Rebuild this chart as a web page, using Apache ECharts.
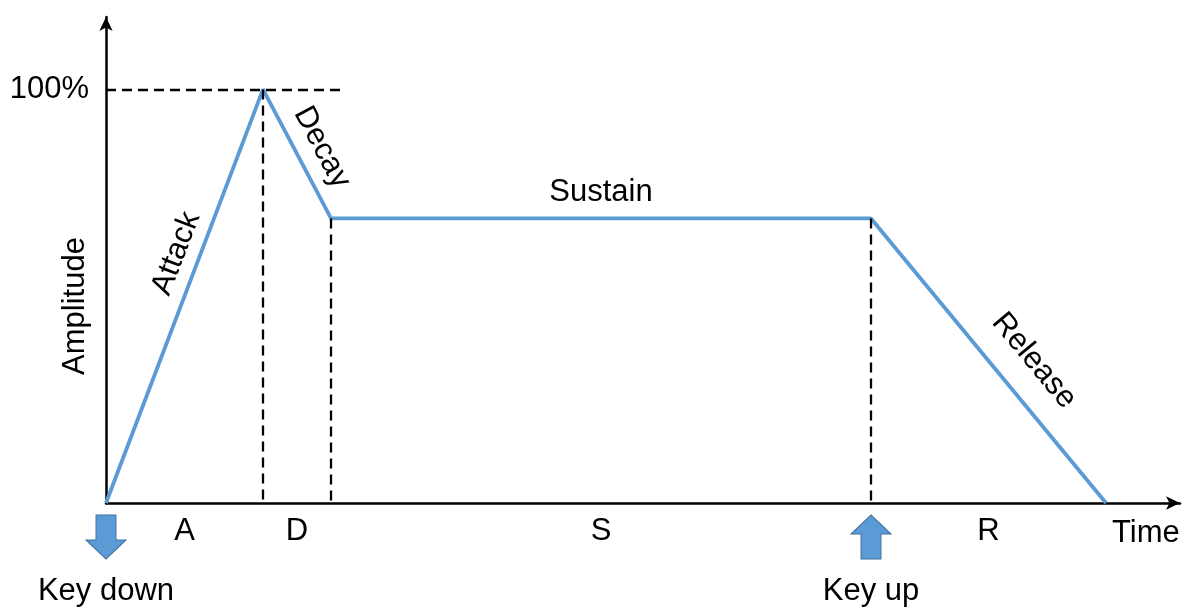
<!DOCTYPE html>
<html><head><meta charset="utf-8">
<script src="https://cdn.jsdelivr.net/npm/echarts@6/dist/echarts.min.js"></script>
<style>html,body{margin:0;padding:0;background:#fff}#c{width:1188px;height:610px}</style>
</head><body><div id="c"></div>
<script>
// ADSR envelope breakpoints (time units, amplitude in %)
const phaseTimes = [0, 1.57, 2.25, 7.65, 10.0];
const envelopeAmplitude = [0, 100, 68.8, 68.8, 0];
const phaseLetters = ['A', 'D', 'S', 'R'];
const phaseNames = ['Attack', 'Decay', 'Sustain', 'Release'];
const keyEventNames = ['Key down', 'Key up'];
const keyEventTimes = [0, 7.65];
const yTickValues = [100];
const yTickLabels = ['100%'];
const peakGuideEnd = 2.39;
const timeMax = 10.74;
const ampMax = 117.5;

const FONT = "'Liberation Sans', Arial, sans-serif";
const BLUE = '#5B9BD5';

const envelopeData = phaseTimes.map((t, i) => [t, envelopeAmplitude[i]]);
const phaseMid = phaseLetters.map((_, i) => (phaseTimes[i] + phaseTimes[i + 1]) / 2);
const phaseMidAmp = phaseLetters.map((_, i) => (envelopeAmplitude[i] + envelopeAmplitude[i + 1]) / 2);

// label styling per phase name (rotation in degrees, offset in rotated frame)
const phaseLabelStyle = [
  { rotate: 69, offset: [37, -23] },
  { rotate: -62, offset: [6, -25] },
  { rotate: 0, offset: [0, -26] },
  { rotate: -50.4, offset: [29, -35] }
];

const guideLines = [
  [{ coord: [0, envelopeAmplitude[1]] }, { coord: [peakGuideEnd, envelopeAmplitude[1]] }],
  [{ coord: [phaseTimes[1], envelopeAmplitude[1]] }, { coord: [phaseTimes[1], 0] }],
  [{ coord: [phaseTimes[2], envelopeAmplitude[2]] }, { coord: [phaseTimes[2], 0] }],
  [{ coord: [phaseTimes[3], envelopeAmplitude[3]] }, { coord: [phaseTimes[3], 0] }]
];

const downArrow = 'path://M10,0 L30,0 L30,25 L40,25 L20,44 L0,25 L10,25 Z';
const upArrow = 'path://M20,0 L40,19 L30,19 L30,44 L10,44 L10,19 L0,19 Z';

const chart = echarts.init(document.getElementById('c'), null, { renderer: 'canvas' });
chart.setOption({
  animation: false,
  backgroundColor: '#fff',
  textStyle: { fontFamily: FONT },
  grid: { left: 106, right: 8, top: 17, bottom: 107, containLabel: false, outerBoundsMode: 'none' },
  xAxis: {
    type: 'value', min: 0, max: timeMax,
    name: 'Time', nameLocation: 'end', nameGap: -68, nameMoveOverlap: false,
    nameTextStyle: { fontSize: 31, color: '#000', fontFamily: FONT, align: 'left', verticalAlign: 'top', padding: [15, 0, 0, 0] },
    axisLine: { show: true, symbol: ['none', 'arrow'], symbolSize: [10, 14], lineStyle: { color: '#000', width: 2.5 } },
    axisTick: { show: false },
    splitLine: { show: false },
    axisLabel: {
      customValues: phaseMid,
      formatter: v => { const i = phaseMid.findIndex(m => Math.abs(m - v) < 1e-6); return i >= 0 ? phaseLetters[i] : ''; },
      fontSize: 31, color: '#000', fontFamily: FONT, margin: 13
    }
  },
  yAxis: {
    type: 'value', min: 0, max: ampMax,
    name: 'Amplitude', nameLocation: 'middle', nameGap: 15, nameMoveOverlap: false,
    nameTextStyle: { fontSize: 31, color: '#000', fontFamily: FONT, padding: [0, 92, 0, 0] },
    axisLine: { show: true, symbol: ['none', 'arrow'], symbolSize: [10, 14], lineStyle: { color: '#000', width: 2.5 } },
    axisTick: { show: false },
    splitLine: { show: false },
    axisLabel: {
      customValues: yTickValues,
      formatter: v => { const i = yTickValues.indexOf(v); return i >= 0 ? yTickLabels[i] : ''; },
      fontSize: 31, color: '#000', fontFamily: FONT, margin: 17
    }
  },
  series: [
    {
      name: 'guides', type: 'line', data: [], silent: true,
      markLine: {
        silent: true, symbol: ['none', 'none'], label: { show: false },
        lineStyle: { color: '#000', width: 2.3, type: [10, 6] },
        emphasis: { disabled: true },
        data: guideLines
      }
    },
    {
      name: 'Envelope', type: 'line', data: envelopeData, symbol: 'none',
      lineStyle: { color: BLUE, width: 3.8 }, z: 3
    },
    {
      name: 'Phases', type: 'scatter', symbolSize: 0, silent: true, z: 4, clip: false,
      itemStyle: { opacity: 1 },
      data: phaseNames.map((n, i) => ({
        name: n, value: [phaseMid[i], phaseMidAmp[i]],
        label: { show: true, position: [0, 0], formatter: n, rotate: phaseLabelStyle[i].rotate, offset: phaseLabelStyle[i].offset,
          fontSize: 31, color: '#000', fontFamily: FONT, align: 'center', verticalAlign: 'middle', textBorderWidth: 0 }
      }))
    },
    {
      name: 'Key events', type: 'scatter', silent: true, z: 5, clip: false,
      symbolSize: [40, 44], symbolOffset: [0, 34],
      itemStyle: { color: BLUE, borderColor: '#41719C', borderWidth: 1, opacity: 1 },
      data: keyEventNames.map((n, i) => ({
        name: n, value: [keyEventTimes[i], 0], symbol: i === 0 ? downArrow : upArrow,
        label: { show: true, position: 'inside', formatter: n, offset: [0, 54], fontSize: 31, color: '#000', fontFamily: FONT, textBorderWidth: 0 }
      }))
    }
  ]
});
</script>
</body></html>
